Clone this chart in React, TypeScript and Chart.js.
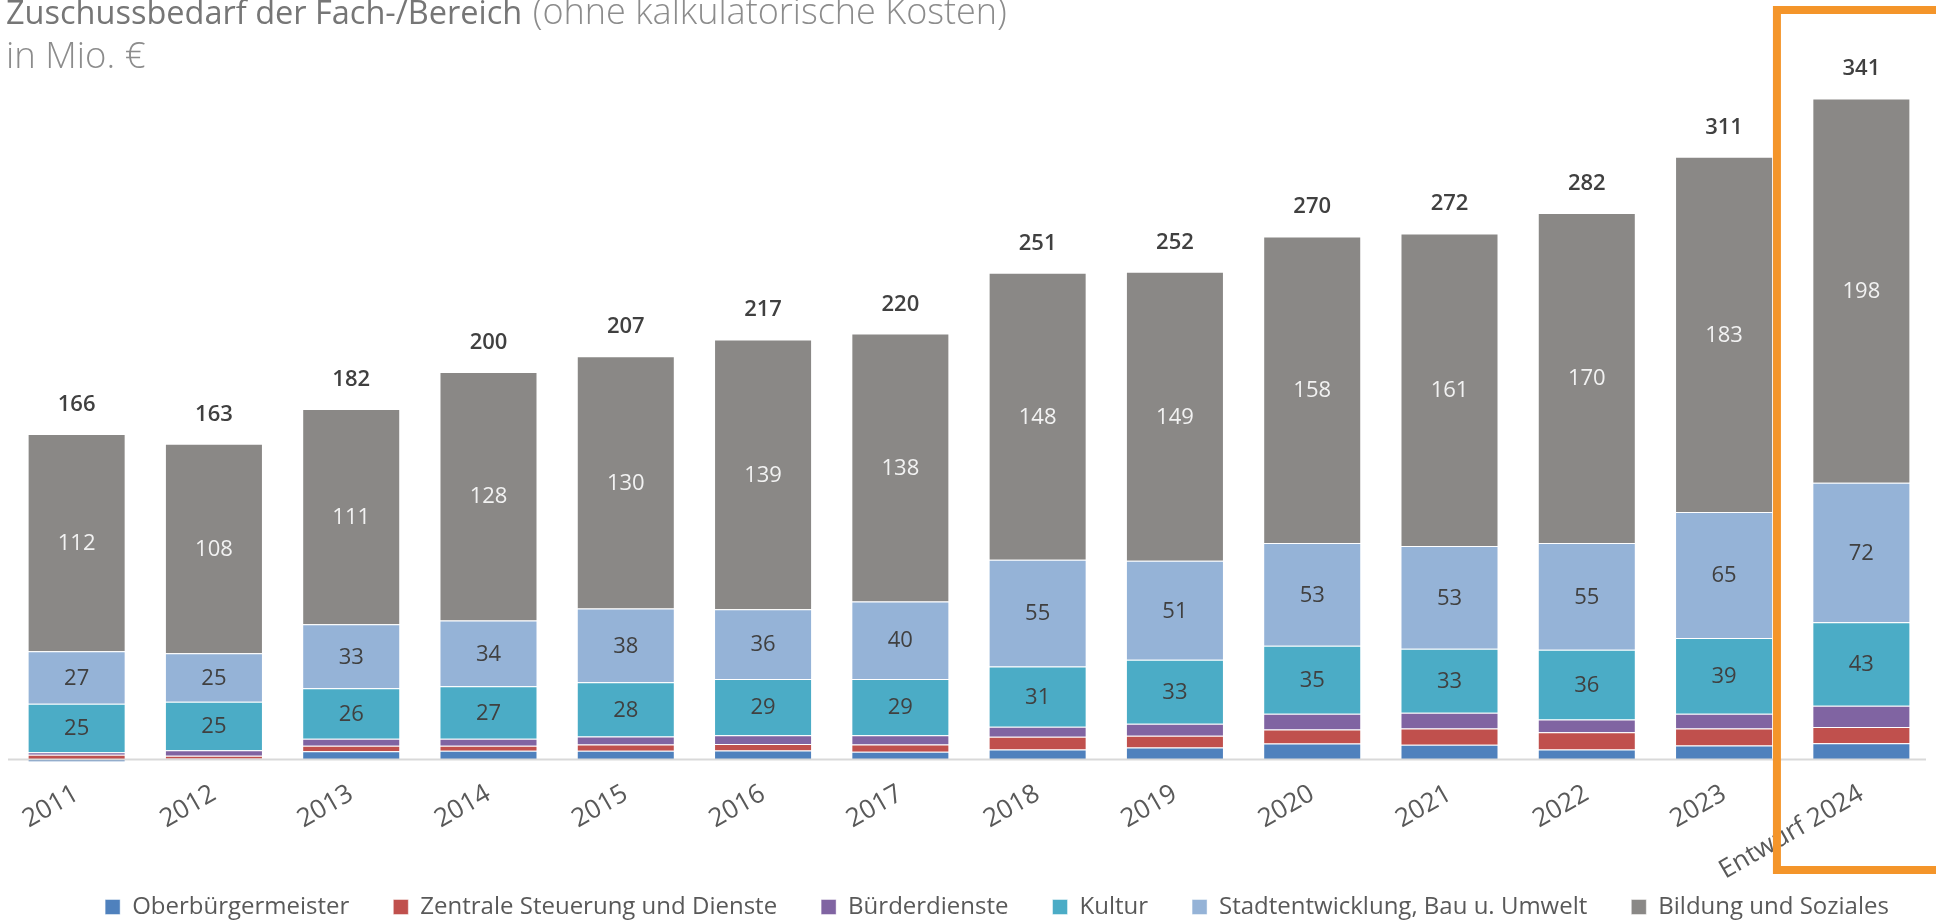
import React, { useEffect, useRef } from 'react';
import { Chart, registerables } from 'chart.js';

Chart.register(...registerables);

const categories = ['2011', '2012', '2013', '2014', '2015', '2016', '2017', '2018', '2019', '2020', '2021', '2022', '2023', 'Entwurf 2024'];
const oberbuergermeister = [-1.4, 0.4, 4.3, 4.5, 4.5, 4.7, 4.0, 5.2, 6.2, 8.3, 7.6, 5.2, 7.2, 8.4];
const zentraleSteuerung = [2.4, 1.6, 2.8, 2.6, 3.3, 3.3, 3.8, 6.5, 6.0, 7.2, 8.4, 8.8, 8.8, 8.4];
const buergerdienste = [1.4, 2.8, 3.6, 3.6, 4.0, 4.5, 4.7, 5.2, 6.2, 8.1, 8.1, 6.6, 7.6, 10.9];
const kultur = [25, 25, 26, 27, 28, 29, 29, 31, 33, 35, 33, 36, 39, 43];
const stadtentwicklung = [27, 25, 33, 34, 38, 36, 40, 55, 51, 53, 53, 55, 65, 72];
const bildung = [112, 108, 111, 128, 130, 139, 138, 148, 149, 158, 161, 170, 183, 198];
const totals = [166, 163, 182, 200, 207, 217, 220, 251, 252, 270, 272, 282, 311, 341];

const seriesNames = ['Oberbürgermeister', 'Zentrale Steuerung und Dienste', 'Bürderdienste', 'Kultur', 'Stadtentwicklung, Bau u. Umwelt', 'Bildung und Soziales'];
const seriesColors = ['#4F81BD', '#C0504D', '#8064A2', '#4BACC6', '#95B3D7', '#8A8886'];
const labelledSeries = [3, 4, 5];
const labelColors = ['#404040', '#404040', '#404040', '#404040', '#404040', '#F2F2F2'];

const FONT = '"Open Sans", "Noto Sans", sans-serif';

const overlayPlugin = {
  id: 'overlay',
  afterLayout(chart: any) {
    // let the rotated category labels extend below the axis box (no clipping)
    const xs = chart.scales.x;
    xs.bottom += 45;
    // legend shifted to match the reference's horizontal placement
    if (chart.legend) {
      chart.legend.left += 28;
      chart.legend.right += 28;
    }
  },
  afterDatasetsDraw(chart: any) {
    const { ctx, chartArea, scales } = chart;
    const y0 = scales.y.getPixelForValue(0);
    ctx.save();
    // zero axis line
    ctx.strokeStyle = '#D9D9D9';
    ctx.lineWidth = 2;
    ctx.beginPath();
    ctx.moveTo(chartArea.left, y0);
    ctx.lineTo(chartArea.right - 4, y0);
    ctx.stroke();

    // segment labels
    ctx.textAlign = 'center';
    ctx.textBaseline = 'middle';
    ctx.font = `400 22px ${FONT}`;
    labelledSeries.forEach((di) => {
      const meta = chart.getDatasetMeta(di);
      const data = chart.data.datasets[di].data as number[];
      ctx.fillStyle = labelColors[di];
      meta.data.forEach((el: any, i: number) => {
        const yc = (el.y + el.base) / 2;
        ctx.fillText(String(Math.round(data[i])), el.x, yc + 1);
      });
    });

    // totals
    const topMeta = chart.getDatasetMeta(chart.data.datasets.length - 1);
    ctx.font = `600 22px ${FONT}`;
    ctx.fillStyle = '#404040';
    ctx.textBaseline = 'alphabetic';
    topMeta.data.forEach((el: any, i: number) => {
      ctx.fillText(String(totals[i]), el.x, el.y - 23);
    });
    ctx.restore();
  },
  afterDraw(chart: any) {
    const { ctx, scales, width } = chart;
    ctx.save();
    // title
    ctx.textAlign = 'left';
    ctx.textBaseline = 'alphabetic';
    ctx.font = `400 32.5px ${FONT}`;
    ctx.fillStyle = '#767676';
    const main = 'Zuschussbedarf der Fach-/Bereich';
    ctx.fillText(main, 6, 24);
    const w = ctx.measureText(main + ' ').width;
    ctx.font = `300 36px ${FONT}`;
    ctx.fillStyle = '#8C8C8C';
    ctx.fillText('(ohne kalkulatorische Kosten)', 6 + w + 2, 24);
    ctx.font = `300 36.5px ${FONT}`;
    ctx.fillText('in Mio. €', 6, 68);

    // highlight box around the draft year
    const xs = scales.x;
    const last = categories.length - 1;
    const cw = xs.getPixelForValue(last) - xs.getPixelForValue(last - 1);
    const left = xs.getPixelForValue(last) - cw * 0.615;
    ctx.strokeStyle = '#F4952A';
    ctx.lineWidth = 8;
    ctx.strokeRect(left, 10, width - left + 20, 860);
    ctx.restore();
  },
};

export default function App() {
  const ref = useRef<HTMLCanvasElement | null>(null);
  useEffect(() => {
    if (!ref.current) return;
    const series = [oberbuergermeister, zentraleSteuerung, buergerdienste, kultur, stadtentwicklung, bildung];
    const chart = new Chart(ref.current, {
      type: 'bar',
      data: {
        labels: categories,
        datasets: series.map((d, i) => ({
          label: seriesNames[i],
          data: d,
          backgroundColor: seriesColors[i],
          borderColor: 'rgba(255,255,255,0.45)',
          borderWidth: 1,
          categoryPercentage: 1,
          barPercentage: 0.714,
        })),
      },
      options: {
        responsive: false,
        animation: false,
        devicePixelRatio: 1,
        layout: { padding: { top: 61, left: 8, right: 6, bottom: -5 } },
        scales: {
          x: {
            stacked: true,
            grid: { display: false, drawTicks: false },
            border: { display: false },
            ticks: {
              minRotation: 30,
              maxRotation: 30,
              autoSkip: false,
              color: '#595959',
              padding: 15,
              font: { family: FONT, size: 26 },
            },
            afterFit: (s: any) => {
              s.height = 87.6;
            },
          },
          y: { stacked: true, display: false, min: -2, max: 360 },
        },
        plugins: {
          legend: {
            position: 'bottom',
            labels: {
              boxWidth: 15,
              boxHeight: 15,
              color: '#595959',
              padding: 44,
              font: { family: FONT, size: 24 },
            },
          },
          tooltip: { enabled: false },
          title: { display: false },
        },
      },
      plugins: [overlayPlugin],
    });
    return () => chart.destroy();
  }, []);
  return (
    <div style={{ position: 'absolute', left: 0, top: 0, width: 1936, height: 924, background: '#fff' }}>
      <canvas ref={ref} width={1936} height={924} style={{ display: 'block' }} />
    </div>
  );
}
